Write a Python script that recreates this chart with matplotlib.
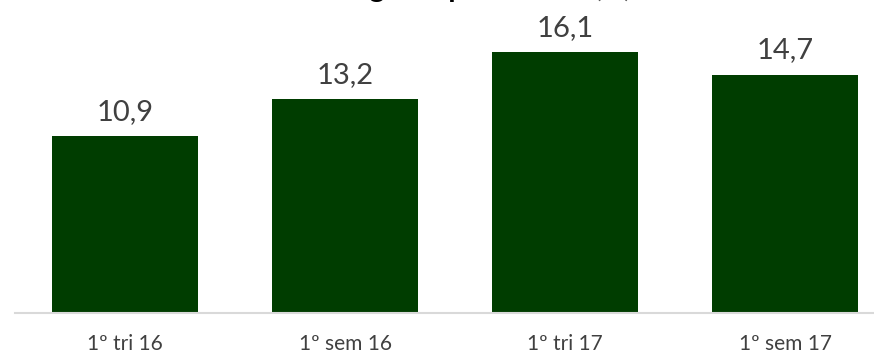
import matplotlib
matplotlib.use("Agg")
import matplotlib.pyplot as plt

categories = ["1º tri 16", "1º sem 16", "1º tri 17", "1º sem 17"]
values = [10.9, 13.2, 16.1, 14.7]
value_labels = ["10,9", "13,2", "16,1", "14,7"]
title_main = "Margem operacional "
title_unit = "(%)"

plt.rcParams['font.family'] = ['Lato', 'DejaVu Sans']

W, H = 874, 354
fig = plt.figure(figsize=(W / 100, H / 100), dpi=100)
ax = fig.add_axes([15 / W, 41 / H, 880 / W, 292 / H])
x = range(len(categories))
ax.bar(x, values, width=0.664, color="#003d00", zorder=2)
ax.set_xlim(-0.5, len(categories) - 0.5)
ax.set_ylim(0, 18)
for xi, v, lab in zip(x, values, value_labels):
    ax.annotate(lab, (xi, v), xytext=(0, 8), textcoords="offset points",
                ha="center", va="bottom", fontsize=21, color="#404040")
ax.set_xticks(list(x))
ax.set_xticklabels(categories, fontsize=15, color="#404040")
ax.tick_params(axis="x", length=0, pad=15)
ax.set_yticks([])
for s in ["top", "right", "left"]:
    ax.spines[s].set_visible(False)
ax.spines["bottom"].set_color("#d9d9d9")
ax.spines["bottom"].set_linewidth(1.5)

fig.text(590 / W, 1.0 + 3 / H, title_main, ha="right", va="baseline",
         fontsize=21, fontweight="bold", color="black")
fig.text(594 / W, 1.0 + 3 / H, title_unit, ha="left", va="baseline",
         fontsize=21, color="#595959")

fig.savefig("out.png", dpi=100)
